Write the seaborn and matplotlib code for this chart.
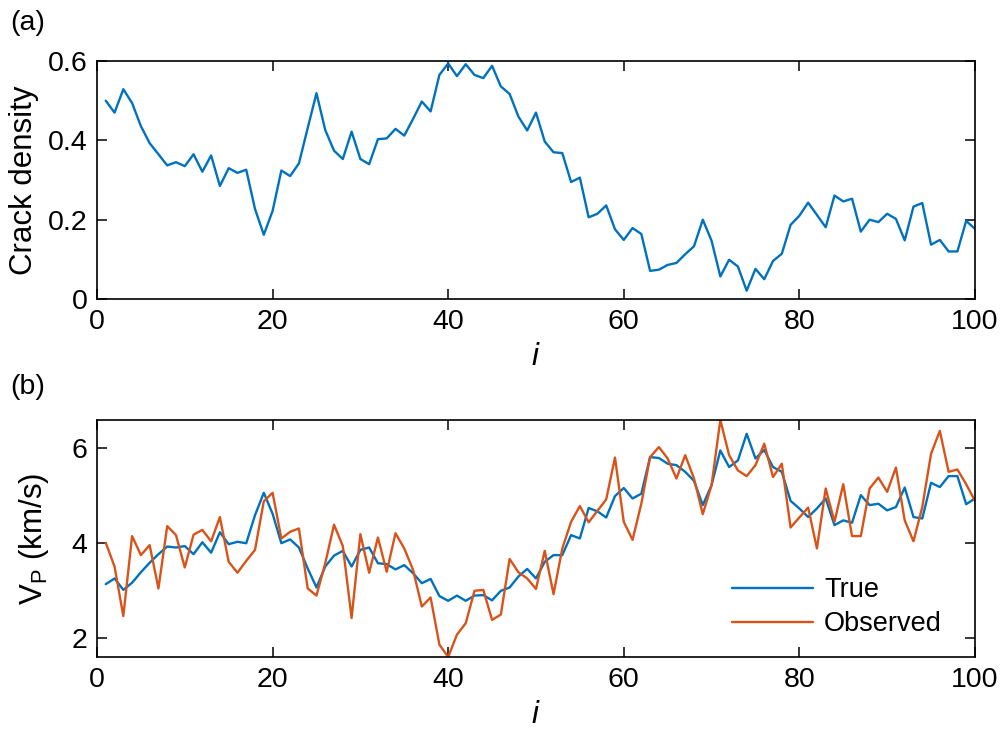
import numpy as np
import pandas as pd
import matplotlib
matplotlib.use("Agg")
import matplotlib.pyplot as plt
import seaborn as sns

# ---- data ----
idx = list(range(1, 101))

crack_density = [
    0.500, 0.470, 0.529, 0.494, 0.436, 0.393, 0.365, 0.337, 0.345, 0.335,
    0.365, 0.321, 0.362, 0.285, 0.330, 0.318, 0.326, 0.227, 0.162, 0.222,
    0.324, 0.310, 0.342, 0.431, 0.519, 0.426, 0.374, 0.353, 0.422, 0.353,
    0.340, 0.403, 0.405, 0.429, 0.412, 0.454, 0.498, 0.473, 0.565, 0.594,
    0.562, 0.592, 0.565, 0.557, 0.588, 0.536, 0.517, 0.460, 0.425, 0.470,
    0.397, 0.370, 0.368, 0.295, 0.306, 0.206, 0.215, 0.236, 0.176, 0.149,
    0.179, 0.164, 0.071, 0.074, 0.086, 0.091, 0.113, 0.133, 0.200, 0.147,
    0.057, 0.099, 0.082, 0.021, 0.076, 0.050, 0.096, 0.114, 0.187, 0.210,
    0.243, 0.212, 0.181, 0.261, 0.246, 0.253, 0.170, 0.200, 0.194, 0.215,
    0.202, 0.148, 0.233, 0.242, 0.137, 0.149, 0.120, 0.120, 0.197, 0.177,
]

vp_true = [
    3.13, 3.25, 3.01, 3.16, 3.38, 3.58, 3.76, 3.92, 3.90, 3.93,
    3.76, 4.01, 3.79, 4.22, 3.97, 4.02, 3.99, 4.58, 5.05, 4.61,
    3.99, 4.07, 3.90, 3.46, 3.06, 3.50, 3.73, 3.83, 3.50, 3.85,
    3.90, 3.57, 3.55, 3.44, 3.53, 3.36, 3.15, 3.24, 2.88, 2.78,
    2.89, 2.78, 2.89, 2.90, 2.79, 2.99, 3.06, 3.29, 3.45, 3.25,
    3.60, 3.74, 3.74, 4.16, 4.09, 4.73, 4.66, 4.53, 4.98, 5.15,
    4.93, 5.03, 5.80, 5.78, 5.66, 5.63, 5.49, 5.30, 4.79, 5.21,
    5.94, 5.59, 5.73, 6.29, 5.77, 5.95, 5.59, 5.49, 4.88, 4.72,
    4.54, 4.72, 4.93, 4.37, 4.47, 4.42, 5.00, 4.79, 4.82, 4.68,
    4.75, 5.16, 4.54, 4.51, 5.26, 5.17, 5.40, 5.40, 4.81, 4.93,
]

vp_observed = [
    4.00, 3.50, 2.46, 4.14, 3.74, 3.95, 3.04, 4.35, 4.16, 3.48,
    4.17, 4.27, 4.03, 4.54, 3.60, 3.37, 3.62, 3.85, 4.87, 5.05,
    4.09, 4.23, 4.30, 3.04, 2.89, 3.57, 4.38, 3.93, 2.42, 4.18,
    3.37, 4.11, 3.39, 4.20, 3.88, 3.43, 2.66, 2.85, 1.86, 1.60,
    2.07, 2.31, 2.99, 3.01, 2.38, 2.49, 3.66, 3.38, 3.25, 3.03,
    3.83, 2.92, 3.88, 4.44, 4.77, 4.43, 4.67, 4.91, 5.79, 4.44,
    4.06, 4.82, 5.80, 6.01, 5.77, 5.35, 5.84, 5.35, 4.60, 5.21,
    6.58, 5.84, 5.52, 5.40, 5.63, 6.08, 5.38, 5.66, 4.32, 4.53,
    4.74, 3.88, 5.14, 4.44, 5.23, 4.14, 4.14, 5.14, 5.37, 5.07,
    5.58, 4.47, 4.03, 4.75, 5.87, 6.35, 5.49, 5.54, 5.23, 4.88,
]

series_names = ["True", "Observed"]
colors = ["#0072BD", "#D95319"]

# ---- style ----
sns.set_theme(style="ticks")
plt.rcParams["font.family"] = ["Liberation Sans", "DejaVu Sans"]
plt.rcParams["mathtext.fontset"] = "custom"
plt.rcParams["mathtext.rm"] = "Liberation Sans"
plt.rcParams["mathtext.it"] = "Liberation Sans:italic"
plt.rcParams["text.color"] = "black"
plt.rcParams["axes.labelcolor"] = "black"
plt.rcParams["xtick.color"] = "black"
plt.rcParams["ytick.color"] = "black"
plt.rcParams["axes.edgecolor"] = "black"

fig = plt.figure(figsize=(10.05, 7.4), dpi=100)
ax1 = fig.add_axes([0.0965, 0.5959, 0.8736, 0.3216])
ax2 = fig.add_axes([0.0965, 0.1122, 0.8736, 0.3203])

lw = 1.7
df_top = pd.DataFrame({"i": idx, "crack": crack_density})
sns.lineplot(data=df_top, x="i", y="crack", ax=ax1, color=colors[0], lw=lw)

df_bot = pd.DataFrame({
    "i": idx * 2,
    "vp": vp_true + vp_observed,
    "series": [series_names[0]] * len(idx) + [series_names[1]] * len(idx),
})
sns.lineplot(data=df_bot, x="i", y="vp", hue="series", palette=colors,
             hue_order=series_names, ax=ax2, lw=lw)

fs_tick = 20.5
fs_leg = 19.5
fs_lab = 22.5
for ax in (ax1, ax2):
    ax.set_xlim(0, 100)
    ax.set_xticks([0, 20, 40, 60, 80, 100])
    ax.tick_params(direction="in", top=True, right=True, length=7, width=1.1,
                   labelsize=fs_tick, pad=7, colors="black")
    for sp in ax.spines.values():
        sp.set_visible(True)
        sp.set_linewidth(1.2)
        sp.set_color("black")
    ax.set_xlabel("$i$", fontsize=fs_lab, labelpad=5)

ax1.set_ylim(0, 0.6)
ax1.set_yticks([0, 0.2, 0.4, 0.6])
ax1.set_yticklabels(["0", "0.2", "0.4", "0.6"])
ax1.set_ylabel("Crack density", fontsize=fs_lab, labelpad=6)

ax2.set_ylim(min(vp_observed + vp_true), max(vp_observed + vp_true))
ax2.set_yticks([2, 4, 6])
ax2.set_ylabel("V$_\\mathrm{P}$ (km/s)", fontsize=fs_lab, labelpad=15)

leg = ax2.legend(loc="lower right", bbox_to_anchor=(0.99, -0.02), frameon=False,
                 fontsize=fs_leg, handlelength=3.0, handletextpad=0.4,
                 labelspacing=0.3, labelcolor="black")

fig.text(0.01, 0.960, "(a)", fontsize=fs_tick, color="black")
fig.text(0.01, 0.467, "(b)", fontsize=fs_tick, color="black")

fig.savefig("out.png", dpi=100)
